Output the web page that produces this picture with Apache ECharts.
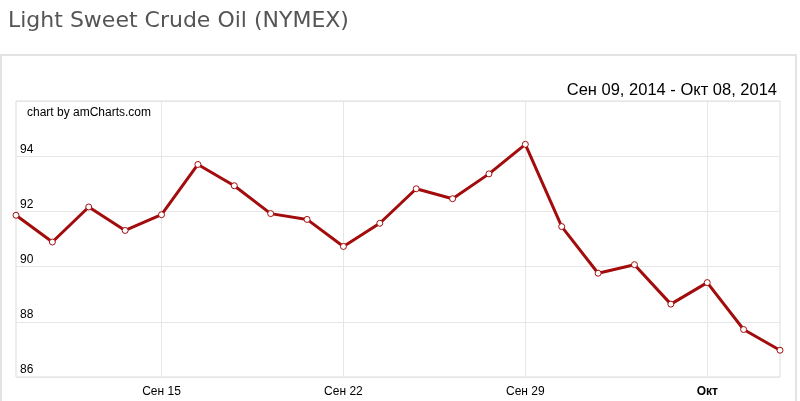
<!DOCTYPE html>
<html>
<head>
<meta charset="utf-8">
<script src="https://cdn.jsdelivr.net/npm/echarts@6/dist/echarts.min.js"></script>
<style>html,body{margin:0;padding:0;background:#fff;}#c{width:800px;height:401px;}</style>
</head>
<body>
<div id="c"></div>
<script>
const dates = ['2014-09-09','2014-09-10','2014-09-11','2014-09-12','2014-09-15','2014-09-16','2014-09-17','2014-09-18','2014-09-19','2014-09-22','2014-09-23','2014-09-24','2014-09-25','2014-09-26','2014-09-29','2014-09-30','2014-10-01','2014-10-02','2014-10-03','2014-10-06','2014-10-07','2014-10-08'];
const prices = [91.86, 90.89, 92.16, 91.31, 91.88, 93.70, 92.93, 91.92, 91.71, 90.73, 91.57, 92.82, 92.46, 93.36, 94.43, 91.45, 89.76, 90.07, 88.64, 89.42, 87.72, 86.97];
const tickLabels = {'2014-09-15':'Сен 15','2014-09-22':'Сен 22','2014-09-29':'Сен 29','2014-10-06':'Окт'};
const boldTicks = ['2014-10-06'];
const titleText = 'Light Sweet Crude Oil (NYMEX)';
const rangeText = 'Сен 09, 2014 - Окт 08, 2014';
const creditText = 'chart by amCharts.com';

const chart = echarts.init(document.getElementById('c'));
const isTick = (i) => tickLabels[dates[i]] !== undefined;
chart.setOption({
  animation: false,
  title: [
    {text: titleText, left: 3, top: 5, textStyle: {fontFamily: 'DejaVu Sans', fontSize: 22, fontWeight: 'normal', color: '#555'}},
    {text: rangeText, right: 18, top: 77, textStyle: {fontFamily: 'Liberation Sans', fontSize: 16.5, fontWeight: 'normal', color: '#000'}}
  ],
  graphic: [
    {type: 'rect', shape: {x: 1, y: 55, width: 795, height: 400}, style: {fill: 'none', stroke: '#e3e3e3', lineWidth: 2}, z: -1},
    {type: 'text', x: 27, y: 107, style: {text: creditText, font: '12px "Liberation Sans"', fill: '#000'}, z: 10}
  ],
  grid: {left: 16, right: 20, top: 101, bottom: 24, show: true, borderColor: '#dcdcdc', borderWidth: 1, containLabel: false},
  xAxis: {
    type: 'category', data: dates, boundaryGap: false,
    axisLine: {show: false}, axisTick: {show: false},
    axisLabel: {
      interval: (i) => isTick(i), margin: 9,
      formatter: (v) => boldTicks.includes(v) ? '{b|' + tickLabels[v] + '}' : (tickLabels[v] || ''),
      fontFamily: 'Liberation Sans', fontSize: 12, color: '#000',
      rich: {b: {fontWeight: 'bold', fontFamily: 'Liberation Sans', fontSize: 12, color: '#000'}}
    },
    splitLine: {show: true, interval: (i) => isTick(i), lineStyle: {color: '#e6e6e6', width: 1}}
  },
  yAxis: {
    type: 'value', min: 86, max: 96, interval: 2,
    axisLine: {show: false}, axisTick: {show: false},
    axisLabel: {inside: true, showMaxLabel: false, margin: 4, verticalAlign: 'bottom', padding: [0, 0, 1, 0], fontFamily: 'Liberation Sans', fontSize: 12, color: '#000'},
    splitLine: {lineStyle: {color: '#e6e6e6', width: 1}}
  },
  series: [{
    type: 'line', data: prices,
    symbol: 'circle', symbolSize: 6, showAllSymbol: true,
    lineStyle: {color: '#a30c0c', width: 3},
    itemStyle: {color: '#fff', borderColor: '#a30c0c', borderWidth: 1}
  }]
});
</script>
</body>
</html>
